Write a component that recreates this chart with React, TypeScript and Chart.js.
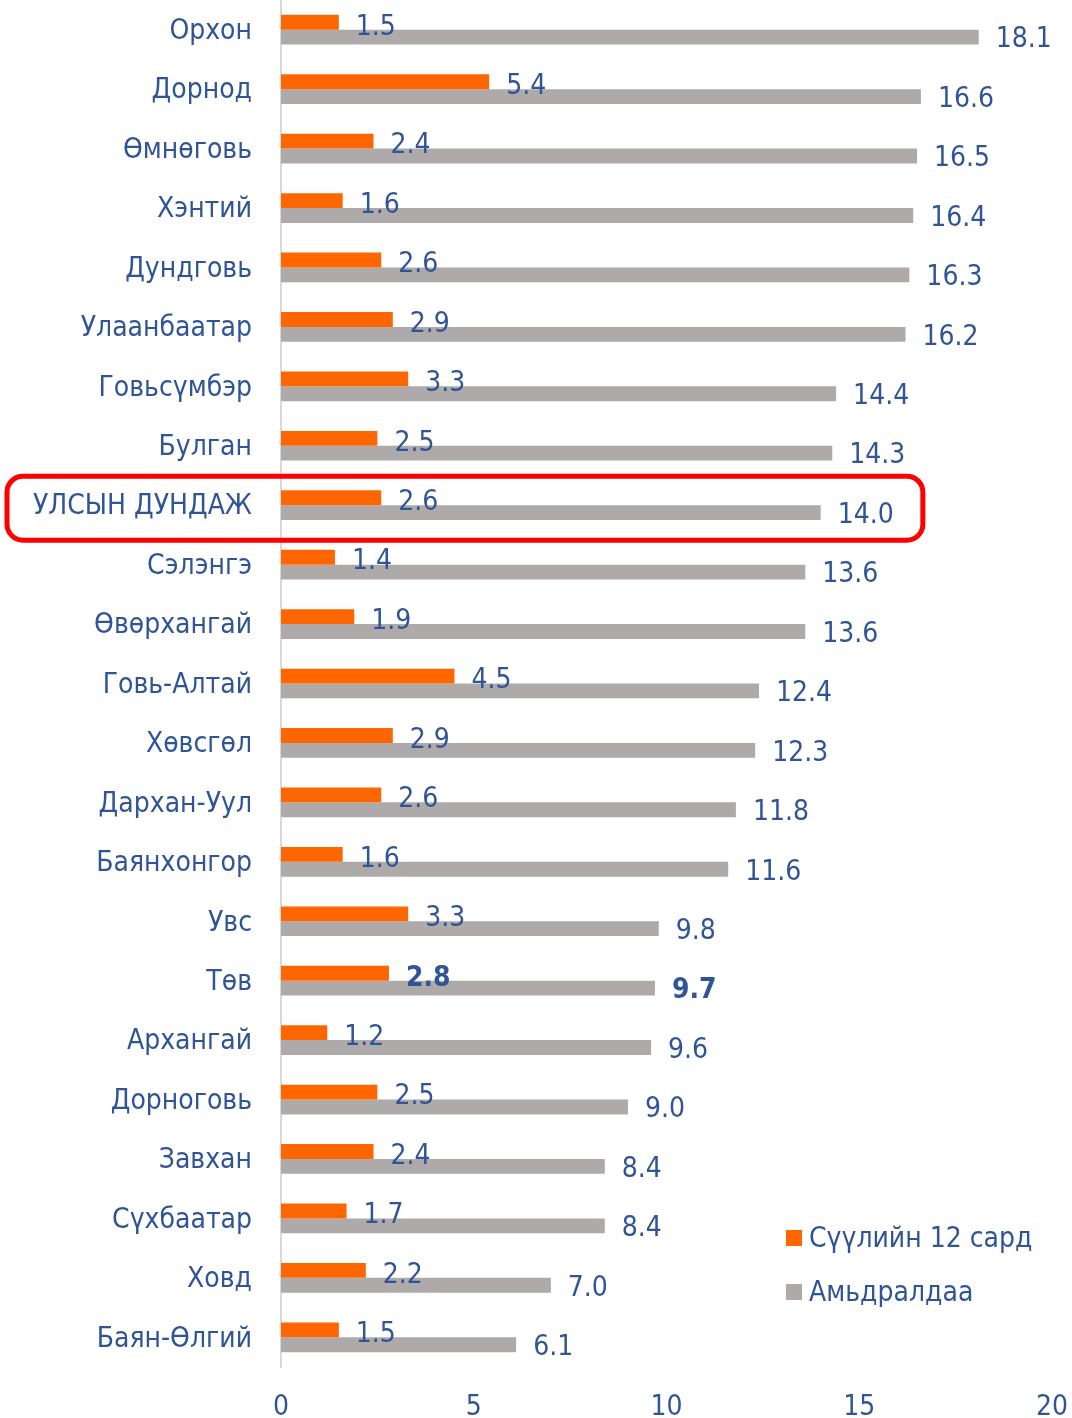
import React, { useEffect, useRef } from "react";
import { Chart, registerables } from "chart.js";

Chart.register(...registerables);

const categories = [
  "Орхон", "Дорнод", "Өмнөговь", "Хэнтий", "Дундговь", "Улаанбаатар", "Говьсүмбэр", "Булган",
  "УЛСЫН ДУНДАЖ", "Сэлэнгэ", "Өвөрхангай", "Говь-Алтай", "Хөвсгөл", "Дархан-Уул", "Баянхонгор",
  "Увс", "Төв", "Архангай", "Дорноговь", "Завхан", "Сүхбаатар", "Ховд", "Баян-Өлгий",
];
const last12Months = [1.5, 5.4, 2.4, 1.6, 2.6, 2.9, 3.3, 2.5, 2.6, 1.4, 1.9, 4.5, 2.9, 2.6, 1.6, 3.3, 2.8, 1.2, 2.5, 2.4, 1.7, 2.2, 1.5];
const lifetime = [18.1, 16.6, 16.5, 16.4, 16.3, 16.2, 14.4, 14.3, 14.0, 13.6, 13.6, 12.4, 12.3, 11.8, 11.6, 9.8, 9.7, 9.6, 9.0, 8.4, 8.4, 7.0, 6.1];
const seriesNames = ["Сүүлийн 12 сард", "Амьдралдаа"];
const xTicks = [0, 5, 10, 15, 20];
const highlightCategory = "УЛСЫН ДУНДАЖ";
const boldCategory = "Төв";

const FONT = "'DejaVu Sans Condensed', 'DejaVu Sans', sans-serif";
const TEXT = "#2F5597";
const ORANGE = "#FF6600";
const GRAY = "#AEAAAA";

const labelsPlugin = {
  id: "valueLabels",
  afterDatasetsDraw(chart: any) {
    const ctx = chart.ctx;
    ctx.save();
    ctx.fillStyle = TEXT;
    ctx.textAlign = "left";
    ctx.textBaseline = "middle";
    chart.data.datasets.forEach((ds: any, di: number) => {
      const meta = chart.getDatasetMeta(di);
      meta.data.forEach((bar: any, i: number) => {
        const bold = categories[i] === boldCategory;
        ctx.font = `${bold ? "bold " : ""}28px ${FONT}`;
        const v = ds.data[i] as number;
        ctx.fillText(v.toFixed(1), bar.x + 17, bar.y + (di === 0 ? 5 : 3));
      });
    });
    ctx.restore();
  },
};

const decorPlugin = {
  id: "decor",
  afterDraw(chart: any) {
    const ctx = chart.ctx;
    const y = chart.scales.y;
    const x = chart.scales.x;
    const idx = categories.indexOf(highlightCategory);
    const yc = y.getPixelForValue(idx);
    ctx.save();
    ctx.strokeStyle = "#FF0000";
    ctx.lineWidth = 5;
    ctx.beginPath();
    const left = 7;
    const right = x.getPixelForValue(16.65);
    ctx.roundRect(left, yc - 29, right - left, 64, 16);
    ctx.stroke();

    // legend
    const colors = [ORANGE, GRAY];
    const lx = 786;
    const ly = [1238, 1292];
    ctx.font = `28px ${FONT}`;
    ctx.textAlign = "left";
    ctx.textBaseline = "middle";
    seriesNames.forEach((name, i) => {
      ctx.fillStyle = colors[i];
      ctx.fillRect(lx, ly[i] - 8, 16, 16);
      ctx.fillStyle = TEXT;
      ctx.fillText(name, lx + 23, ly[i] + 2);
    });
    ctx.restore();
  },
};

export default function App() {
  const ref = useRef<HTMLCanvasElement>(null);
  useEffect(() => {
    if (!ref.current) return;
    const chart = new Chart(ref.current, {
      type: "bar",
      data: {
        labels: categories,
        datasets: [
          { label: seriesNames[0], data: last12Months, backgroundColor: ORANGE, categoryPercentage: 0.5, barPercentage: 1.0 },
          { label: seriesNames[1], data: lifetime, backgroundColor: GRAY, categoryPercentage: 0.5, barPercentage: 1.0 },
        ],
      },
      options: {
        indexAxis: "y",
        animation: false,
        responsive: false,
        devicePixelRatio: 1,
        layout: { padding: { left: 0, right: 20, top: 0, bottom: 0 } },
        plugins: { legend: { display: false }, tooltip: { enabled: false } },
        scales: {
          x: {
            min: 0,
            max: 20,
            afterBuildTicks(scale: any) {
              scale.ticks = xTicks.map((v) => ({ value: v }));
            },
            grid: { display: false, drawTicks: false },
            border: { display: false },
            ticks: { color: TEXT, font: { size: 28, family: FONT }, padding: 24 },
            afterFit(scale: any) {
              scale.height = 51;
              scale.paddingLeft = 0;
              scale.paddingRight = 0;
            },
          },
          y: {
            grid: { display: false, drawTicks: false },
            border: { display: true, color: "#D9D9D9", width: 2 },
            ticks: {
              color: TEXT,
              font: { size: 28, family: FONT },
              padding: 29,
              labelOffset: 2,
              autoSkip: false,
            },
            afterFit(scale: any) {
              scale.width = 281;
              scale.paddingTop = 0;
              scale.paddingBottom = 0;
            },
          },
        },
      },
      plugins: [labelsPlugin, decorPlugin],
    });
    return () => chart.destroy();
  }, []);
  return (
    <div style={{ position: "absolute", left: 0, top: 0, width: 1072, height: 1418, background: "#fff" }}>
      <canvas ref={ref} width={1072} height={1418} style={{ width: 1072, height: 1418 }} />
    </div>
  );
}
